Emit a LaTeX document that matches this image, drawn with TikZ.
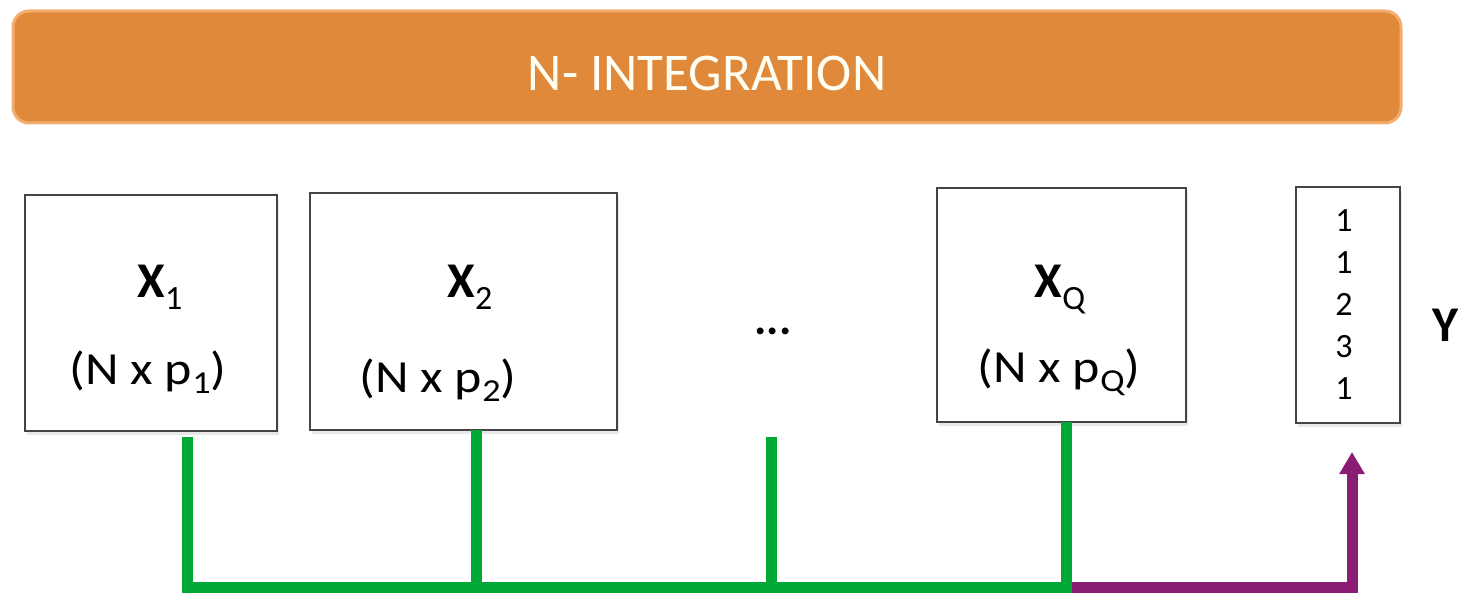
\documentclass[tikz,border=0pt]{standalone}
\usepackage{fontspec}
\setmainfont{Carlito}
\usetikzlibrary{arrows.meta,shadows}
\definecolor{barorange}{HTML}{E0893A}
\definecolor{barrim}{HTML}{F2AE70}
\definecolor{lineGreen}{HTML}{00A836}
\definecolor{linePurple}{HTML}{8B1C73}
\definecolor{boxline}{HTML}{444444}
\newcommand{\dimlabel}[1]{\scalebox{1.13}[1]{(N x p\raisebox{-9pt}{\fontsize{32}{32}\selectfont #1})}}
\tikzset{
  databox/.style={draw=boxline, line width=1.8pt, fill=white, rectangle, inner sep=0pt,
    drop shadow={opacity=0.18, shadow xshift=2pt, shadow yshift=-4pt}},
  bigx/.style={font=\fontsize{50}{50}\selectfont\bfseries, inner sep=0pt},
  dimtxt/.style={font=\fontsize{46}{46}\selectfont, inner sep=0pt},
  numtxt/.style={font=\fontsize{34}{34}\selectfont, inner sep=0pt},
  greenline/.style={draw=lineGreen, line width=11pt, line join=miter},
  purpleline/.style={draw=linePurple, line width=11pt, line join=miter},
}
\begin{document}
\begin{tikzpicture}[x=1pt,y=-1pt]
\useasboundingbox (0,0) rectangle (1462,593);
% title bar
\node (bar) [draw=barrim, line width=3pt, fill=barorange, rounded corners=16pt,
  minimum width=1388pt, minimum height=112pt, inner sep=0pt] at (707,67) {};
\node (title) [text=white!95!yellow, font=\fontsize{53}{53}\selectfont, inner sep=0pt] at (707,73) {N- INTEGRATION};
% boxes
\node (x1) [databox, minimum width=252pt, minimum height=236pt] at (151,313) {};
\node (x2) [databox, minimum width=307pt, minimum height=237pt] at (463.5,311.5) {};
\node (xq) [databox, minimum width=249pt, minimum height=234pt] at (1061.5,305) {};
\node (yb) [databox, minimum width=104pt, minimum height=236pt] at (1348,305) {};
% texts
\node (x1t) [bigx, anchor=base] at (160,298) {X\textmd{\raisebox{-12pt}{\fontsize{34}{34}\selectfont 1}}};
\node (x1d) [dimtxt, anchor=base] at (148,385) {\dimlabel{1}};
\node (x2t) [bigx, anchor=base] at (470,298) {X\textmd{\raisebox{-12pt}{\fontsize{34}{34}\selectfont 2}}};
\node (x2d) [dimtxt, anchor=base] at (438,393) {\dimlabel{2}};
\node (xqt) [bigx, anchor=base] at (1060,298) {X\textmd{\raisebox{-12pt}{\fontsize{34}{34}\selectfont Q}}};
\node (xqd) [dimtxt, anchor=base] at (1059,383) {\dimlabel{Q}};
\node (dots) [font=\fontsize{46}{46}\selectfont\bfseries, inner sep=0pt, anchor=base] at (773,335) {...};
\node (ylab) [bigx, anchor=base] at (1445,342) {Y};
\node (n1) [numtxt, anchor=base] at (1344,232) {1};
\node (n2) [numtxt, anchor=base] at (1344,274) {1};
\node (n3) [numtxt, anchor=base] at (1344,316) {2};
\node (n4) [numtxt, anchor=base] at (1344,358) {3};
\node (n5) [numtxt, anchor=base] at (1344,400) {1};
% connectors
\coordinate (c1) at (187.5,437);
\coordinate (c2) at (476,430);
\coordinate (cd) at (771,437);
\coordinate (cq) at (1066.5,422);
\coordinate (tip) at (1352,452);
\coordinate (bl) at (187.5,587.5);
\coordinate (bq) at (1066.5,587.5);
\coordinate (by) at (1352,587.5);
\draw[purpleline, -{Triangle[width=24pt,length=22pt]}] (bq) -- (by) -- (tip);
\draw[greenline] (c1) -- (bl) -- (bq) -- (cq);
\draw[greenline] (c2) -- (c2 |- bl);
\draw[greenline] (cd) -- (cd |- bl);
\end{tikzpicture}
\end{document}
